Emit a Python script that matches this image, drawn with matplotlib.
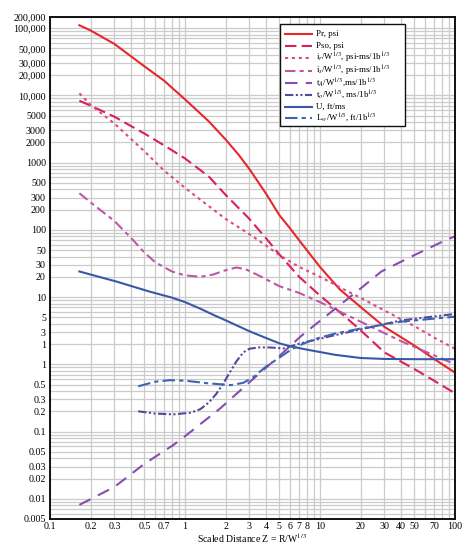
import matplotlib
matplotlib.use("Agg")
import matplotlib.pyplot as plt
from matplotlib.ticker import LogLocator, NullFormatter
from matplotlib.lines import Line2D
from matplotlib.patches import Rectangle

plt.rcParams['font.family'] = ['Liberation Serif', 'DejaVu Serif']
plt.rcParams['mathtext.fontset'] = 'stix'

# ---------------- data ----------------
pr_x = [0.165, 0.2, 0.3, 0.5, 0.7, 1, 1.5, 2, 2.5, 3, 4, 5, 6, 7, 10, 14, 20, 30, 50, 70, 100]
pr_y = [110000, 92000, 58000, 27000, 16500, 8700, 4100, 2200, 1300, 800, 340, 165, 105, 70, 28, 13, 7.1, 3.6, 1.9, 1.2, 0.75]

pso_x = [0.165, 0.2, 0.3, 0.5, 0.7, 1, 1.5, 2, 3, 4, 5, 7, 10, 15, 20, 30, 50, 70, 100]
pso_y = [8300, 7000, 4800, 2700, 1800, 1150, 620, 330, 145, 74, 43, 20, 10.5, 5.3, 3.2, 1.5, 0.85, 0.57, 0.37]

ir_x = [0.165, 0.2, 0.3, 0.5, 0.7, 1, 1.5, 2, 3, 4, 5, 7, 10, 15, 20, 30, 50, 70, 100]
ir_y = [10700, 7200, 3800, 1470, 760, 420, 225, 145, 86, 58, 42, 28, 20, 13, 9.7, 6.3, 3.7, 2.5, 1.7]

is_x = [0.165, 0.2, 0.3, 0.4, 0.5, 0.6, 0.8, 1, 1.3, 1.6, 2.0, 2.4, 2.8, 3.5, 5, 7, 10, 20, 40, 100]
is_y = [350, 255, 135, 75, 46, 33, 24, 21, 20, 21.5, 25, 27.5, 26, 21, 14.5, 11.5, 8.4, 4.3, 2.2, 1.0]

ta_x = [0.165, 0.3, 0.5, 0.82, 1, 1.82, 3, 5, 7.2, 9.1, 20, 28.5, 50, 85, 100]
ta_y = [0.0081, 0.015, 0.033, 0.063, 0.085, 0.22, 0.54, 1.33, 2.6, 3.8, 13.4, 24, 42, 70, 80]

to_x = [0.45, 0.6, 0.82, 1.1, 1.3, 1.5, 1.7, 1.9, 2.1, 2.4, 2.7, 3.0, 3.5, 4.2, 5.4, 7.2, 12.8, 20, 40, 100]
to_y = [0.2, 0.185, 0.18, 0.19, 0.215, 0.27, 0.36, 0.5, 0.7, 1.1, 1.5, 1.7, 1.78, 1.78, 1.72, 2.05, 2.7, 3.3, 4.5, 5.6]

u_x = [0.165, 0.31, 0.55, 0.8, 1, 1.3, 1.6, 2, 3, 4, 5, 6, 8, 10, 13, 20, 30, 50, 100]
u_y = [24, 17, 12, 9.8, 8.4, 6.7, 5.5, 4.5, 3.1, 2.45, 2.05, 1.85, 1.65, 1.52, 1.38, 1.24, 1.2, 1.19, 1.19]

lw_x = [0.45, 0.6, 0.77, 1, 1.5, 2.2, 2.7, 3.2, 4, 4.84, 6.1, 7, 9, 12.8, 20, 40, 100]
lw_y = [0.47, 0.55, 0.58, 0.57, 0.52, 0.49, 0.53, 0.64, 0.93, 1.2, 1.65, 1.9, 2.35, 2.85, 3.4, 4.3, 5.1]

labels = [
    "Pr, psi",
    "Pso, psi",
    r"i$_r$/W$^{1/3}$, psi-ms/1b$^{1/3}$",
    r"i$_s$/W$^{1/3}$, psi-ms/1b$^{1/3}$",
    r"t$_A$/W$^{1/3}$,ms/1b$^{1/3}$",
    r"t$_o$/W$^{1/3}$, ms/1b$^{1/3}$",
    "U, ft/ms",
    r"L$_w$/W$^{1/3}$, ft/1b$^{1/3}$",
]

xtick_vals = [0.1, 0.2, 0.3, 0.5, 0.7, 1, 2, 3, 4, 5, 6, 7, 8, 10, 20, 30, 40, 50, 70, 100]
xtick_labels = ["0.1", "0.2", "0.3", "0.5", "0.7", "1", "2", "3", "4", "5", "6", "7", "8",
                "10", "20", "30", "40", "50", "70", "100"]
ytick_vals = [1.46e5, 1e5, 5e4, 3e4, 2e4, 1e4, 5000, 3000, 2000, 1000, 500, 300, 200, 100,
              50, 30, 20, 10, 5, 3, 2, 1, 0.5, 0.3, 0.2, 0.1, 0.05, 0.03, 0.02, 0.01, 0.005]
ytick_labels = ["200,000", "100,000", "50,000", "30,000", "20,000", "10,000", "5000", "3000",
                "2000", "1000", "500", "300", "200", "100", "50", "30", "20", "10", "5", "3",
                "1", "1", "0.5", "0.3", "0.2", "0.1", "0.05", "0.03", "0.02", "0.01", "0.005"]

# ---------------- figure ----------------
W, H = 465, 544
fig = plt.figure(figsize=(W / 100, H / 100), dpi=100)
ax = fig.add_axes([50 / W, 1 - 519 / H, 405 / W, 502 / H])
ax.set_xscale('log')
ax.set_yscale('log')
ax.set_xlim(0.1, 100)
ax.set_ylim(0.005, 1.46e5)

ax.xaxis.set_minor_locator(LogLocator(base=10, subs=range(2, 10), numticks=20))
ax.yaxis.set_minor_locator(LogLocator(base=10, subs=range(2, 10), numticks=30))
ax.xaxis.set_minor_formatter(NullFormatter())
ax.yaxis.set_minor_formatter(NullFormatter())
ax.set_xticks(xtick_vals)
ax.set_xticklabels(xtick_labels)
ax.set_yticks(ytick_vals)
ax.set_yticklabels(ytick_labels)
ax.tick_params(which='both', length=0, labelsize=7.2)
ax.tick_params(axis='x', pad=2)
ax.tick_params(axis='y', pad=3)
ax.grid(which='both', color='#cbcbcb', linewidth=0.9)
ax.set_axisbelow(True)
for s in ax.spines.values():
    s.set_linewidth(1.4)
    s.set_color('#111111')

lw = 1.5
styles = [
    dict(color='#e6282c', ls='-'),
    dict(color='#dc1f58', dashes=(5.5, 2.5)),
    dict(color='#e0468e', dashes=(1.5, 1.8)),
    dict(color='#bd58a8', dashes=(5, 2, 2, 2)),
    dict(color='#8a4cae', dashes=(6, 4)),
    dict(color='#55479c', dashes=(4, 1.2, 1, 1.2, 1, 1.2)),
    dict(color='#3b58a8', ls='-'),
    dict(color='#3c66b2', dashes=(6, 2, 2, 2)),
]
series = [(pr_x, pr_y), (pso_x, pso_y), (ir_x, ir_y), (is_x, is_y),
          (ta_x, ta_y), (to_x, to_y), (u_x, u_y), (lw_x, lw_y)]
for (sx, sy), st in zip(series, styles):
    ax.plot(sx, sy, lw=lw, **st)

# ---- legend box drawn with evenly spaced rows (as in the reference) ----
def fx(px):
    return px / W

def fy(py):
    return 1 - py / H

row_y = [34.0, 45.5, 57.5, 71.0, 83.0, 95.0, 106.5, 118.0]
box_bottom = row_y[-1] + 8.0
box = Rectangle((fx(280), fy(box_bottom)), fx(405) - fx(280), fy(24) - fy(box_bottom),
                transform=fig.transFigure, facecolor='white', edgecolor='#111111',
                linewidth=1.0, zorder=5)
fig.add_artist(box)
for yy, lab, st in zip(row_y, labels, styles):
    ln = Line2D([fx(285), fx(312)], [fy(yy), fy(yy)], transform=fig.transFigure,
                lw=lw, zorder=6, **st)
    fig.add_artist(ln)
    fig.text(fx(316), fy(yy), lab, fontsize=6.4, va='center', ha='left', zorder=7)

fig.text(252 / W, 1 - 538.5 / H, r"Scaled Distance Z = R/W$^{1/3}$", ha='center',
         va='center', fontsize=7.0)

fig.savefig('out.png', dpi=100)
